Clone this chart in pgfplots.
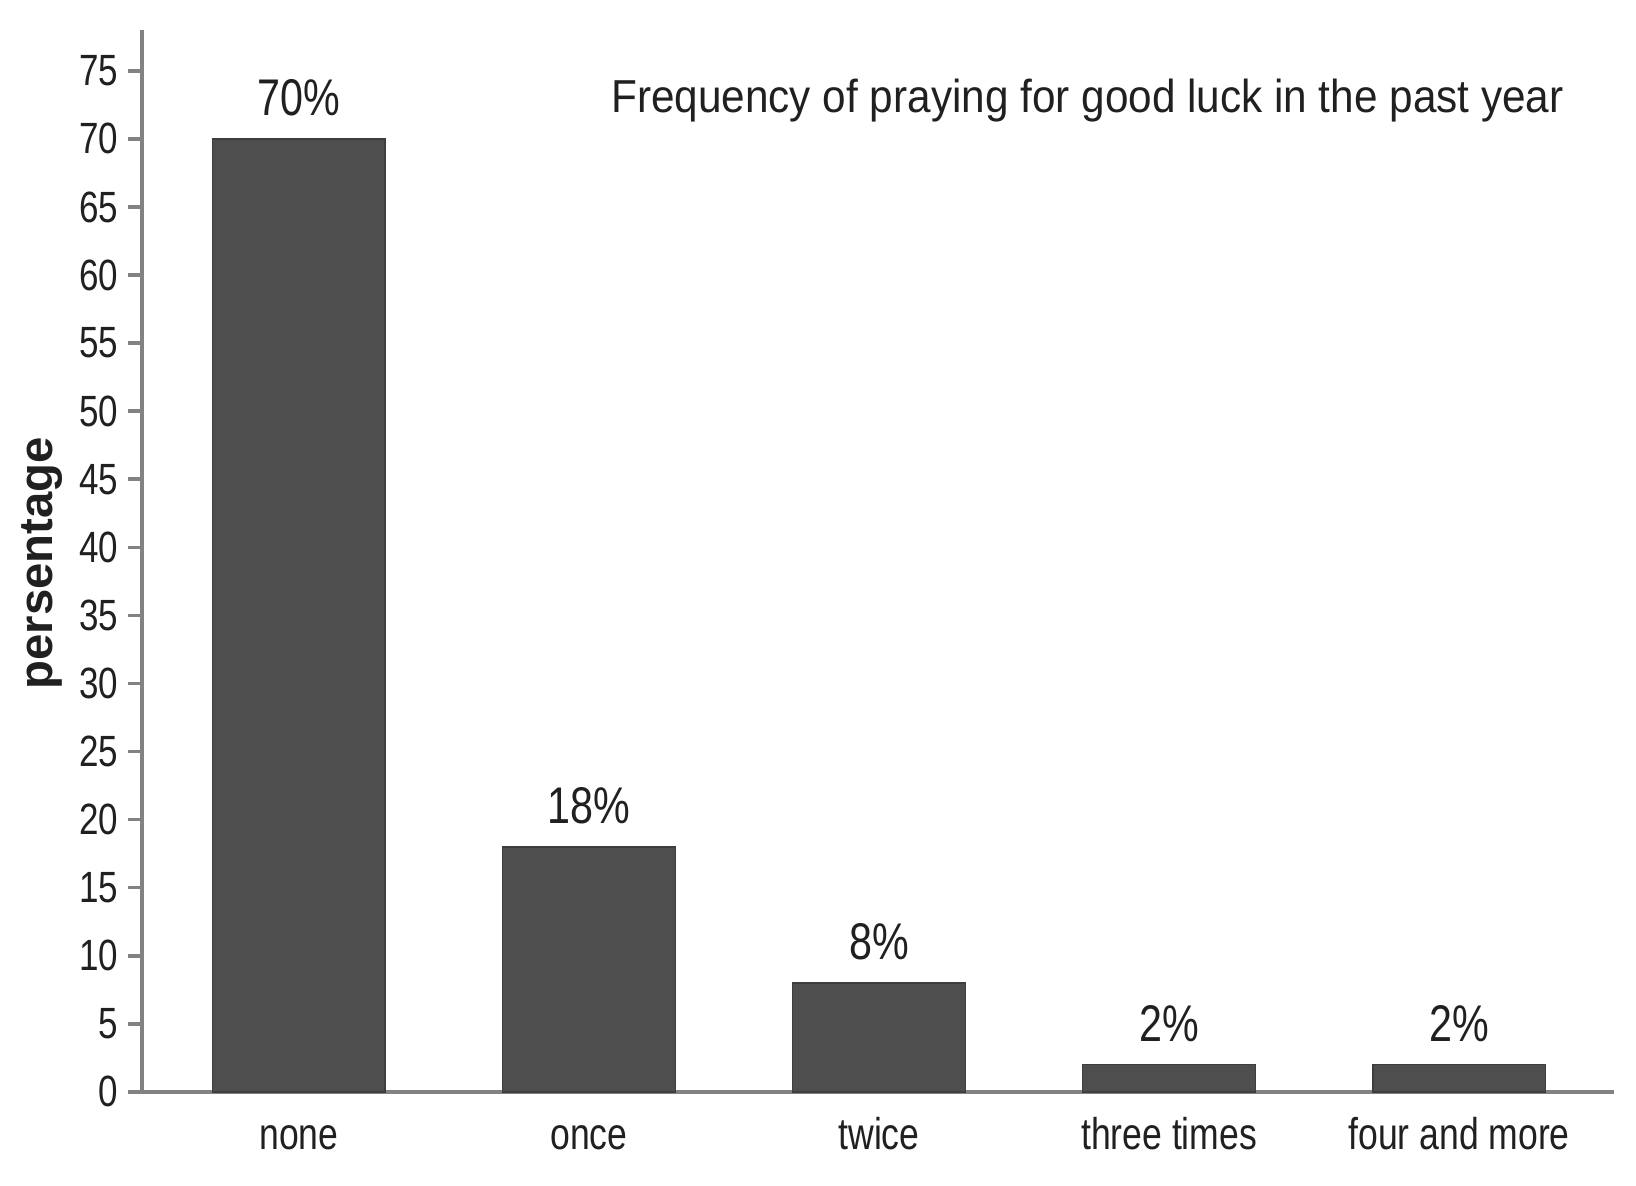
\documentclass[border=0pt]{standalone}
\usepackage{fontspec}
\setmainfont{Liberation Sans}[FakeStretch=0.8]
\newfontfamily\titlefont{Liberation Sans}[FakeStretch=0.915]
\newfontfamily\ylabfont{Liberation Sans}
\usepackage{pgfplots}
\pgfplotsset{compat=1.18}
\definecolor{barc}{RGB}{78,78,78}
\definecolor{barline}{RGB}{62,62,62}
\definecolor{axc}{RGB}{130,130,130}
\definecolor{textc}{RGB}{32,32,32}
\begin{document}
\begin{tikzpicture}
\begin{axis}[
 scale only axis, width=413.9pt, height=298.6pt,
 xmin=-0.541, xmax=4.534, ymin=0, ymax=78,
 clip=false,
 axis lines=left,
 axis line style={-, draw=axc, line width=1.1pt},
 ytick={0,5,...,75},
 xtick={0,1,2,3,4},
 xticklabels={none,once,twice,three times,four and more},
 tick align=outside,
 major tick length=3.9pt,
 ytick style={draw=axc, line width=1pt},
 xtick style={draw=none},
 /pgf/number format/assume math mode=true,
 yticklabel style={font=\fontsize{12.3}{14}\selectfont, text=textc, inner sep=0pt, xshift=-2.6pt},
 xticklabel style={font=\fontsize{12.5}{15}\selectfont, text=textc, anchor=base, yshift=-12.4pt},
 ylabel={persentage},
 ylabel style={font=\ylabfont\bfseries\fontsize{13.3}{16}\selectfont, text=textc, at={(axis description cs:-0.0611,0.498)}, anchor=base},
]
\addplot[ybar, bar width=0.595, fill=barc, draw=barline, line width=0.4pt,
  nodes near coords={\pgfmathprintnumber{\pgfplotspointmeta}\%},
  nodes near coords style={font=\fontsize{14.5}{17}\selectfont, text=textc, anchor=base, yshift=6.6pt}]
  coordinates {(0,70) (1,18) (2,8) (3,2) (4,2)};
\node[anchor=base, font=\titlefont\fontsize{13}{16}\selectfont, text=textc] at (axis description cs:0.6423,0.922) {Frequency of praying for good luck in the past year};
\coordinate (SW) at (axis description cs:0,0);
\coordinate (NE) at (axis description cs:1,1);
\end{axis}
\pgfresetboundingbox
\useasboundingbox ([xshift=-39.93pt,yshift=-26.43pt]SW) rectangle ([xshift=6.19pt,yshift=8.43pt]NE);
\end{tikzpicture}
\end{document}
